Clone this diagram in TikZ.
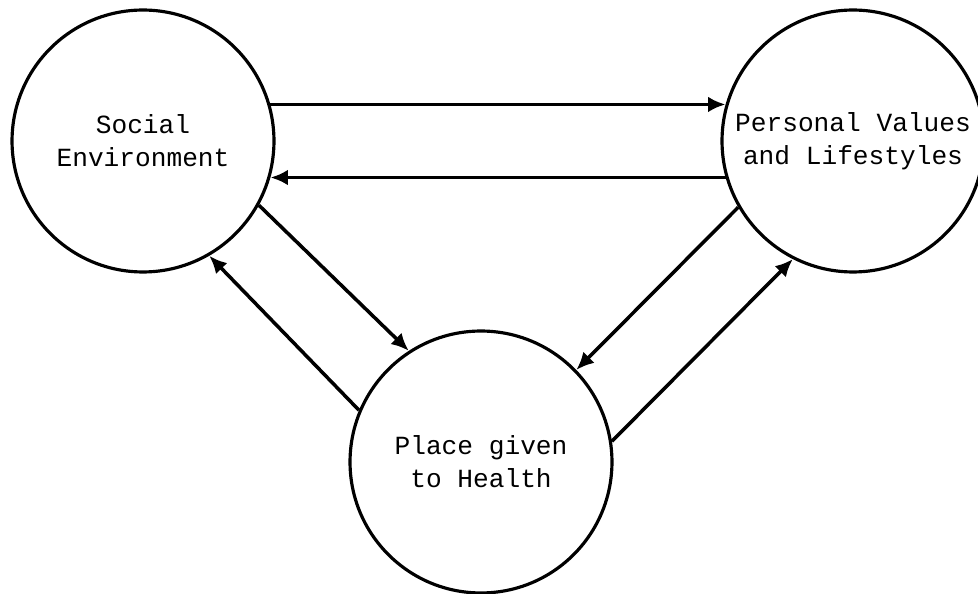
\documentclass[tikz,border=0pt]{standalone}
\usepackage{fontspec}
\setmonofont{Liberation Mono}
\usetikzlibrary{arrows.meta}
\tikzset{
  circ/.style={draw,circle,line width=1.8pt,minimum size=5.24cm,inner sep=0pt,align=center,
    font=\ttfamily\fontsize{14.9}{18.8}\selectfont},
}

\begin{document}
\begin{tikzpicture}[>={Latex[length=10pt,width=9pt]},x=0.02cm,y=-0.02cm,line width=2pt]
                \useasboundingbox (0,0) rectangle (978,594);
                \node[circ] (S) at (143,141) {Social\\Environment};
                \node[circ] (P) at (853,141) {Personal Values\\and Lifestyles};
                \node[circ] (H) at (481,462) {Place given\\to Health};
                \draw[->] (S.16) -- (P.164);
                \draw[->] (P.196) -- (S.344);
                \draw[->] (S.-29) -- (H.123);
                \draw[->] (H.157) -- (S.-60);
                \draw[->] (P.210) -- (H.44);
                \draw[->] (H.9) -- (P.243);
            \end{tikzpicture}
\end{document}
